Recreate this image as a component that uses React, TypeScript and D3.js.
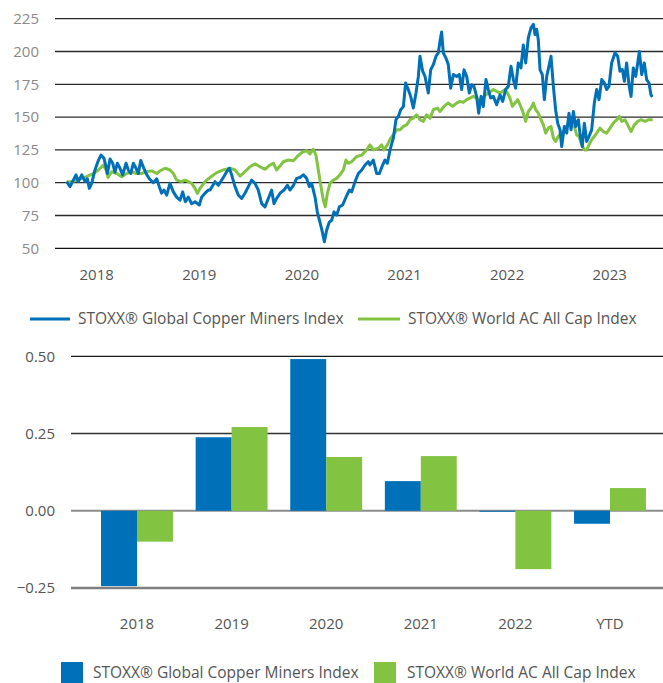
import React from 'react';
import * as d3 from 'd3';

// ---------- Top chart data (decimal year, index level) ----------
const copperMiners: [number, number][] = [
  [2017.707, 100.8], [2017.74, 97], [2017.772, 102], [2017.798, 106], [2017.821, 100.8], [2017.854, 106],
  [2017.886, 101], [2017.909, 103], [2017.928, 95.7], [2017.951, 99.5], [2017.983, 109.7], [2018.016, 117],
  [2018.042, 121], [2018.071, 118.6], [2018.091, 112], [2018.104, 107], [2018.13, 118], [2018.156, 114.8],
  [2018.178, 108], [2018.201, 114.8], [2018.227, 111], [2018.253, 106], [2018.286, 114.8], [2018.308, 109.7],
  [2018.331, 107], [2018.357, 114.8], [2018.383, 111], [2018.406, 107], [2018.429, 117], [2018.454, 112],
  [2018.481, 107], [2018.513, 103], [2018.552, 100], [2018.585, 103], [2018.61, 97], [2018.633, 92],
  [2018.656, 94.4], [2018.682, 90.5], [2018.714, 99.5], [2018.747, 93], [2018.779, 89], [2018.812, 86.7],
  [2018.838, 93], [2018.864, 85.5], [2018.893, 89], [2018.926, 84], [2018.958, 85.5], [2019.0, 83],
  [2019.023, 89], [2019.056, 92], [2019.088, 94.4], [2019.105, 94.4], [2019.153, 100.8], [2019.186, 98],
  [2019.234, 104], [2019.267, 108.4], [2019.293, 111], [2019.315, 106], [2019.348, 97], [2019.38, 90.6],
  [2019.413, 88], [2019.445, 92], [2019.478, 97], [2019.51, 102], [2019.543, 99.5], [2019.575, 94.4],
  [2019.608, 84], [2019.64, 81.6], [2019.673, 88], [2019.705, 94.4], [2019.728, 84], [2019.754, 88],
  [2019.787, 92], [2019.826, 94.4], [2019.858, 98], [2019.884, 94.4], [2019.917, 98], [2019.949, 103.3],
  [2019.981, 104], [2020.014, 106], [2020.046, 103.3], [2020.072, 97], [2020.095, 99.5], [2020.128, 89],
  [2020.15, 77.8], [2020.176, 70], [2020.199, 62.5], [2020.219, 55], [2020.241, 63.8], [2020.267, 70],
  [2020.29, 71.4], [2020.313, 77.8], [2020.339, 75.3], [2020.365, 81.6], [2020.397, 83], [2020.43, 89],
  [2020.462, 94.4], [2020.485, 93], [2020.518, 100.8], [2020.55, 107], [2020.583, 109.7], [2020.615, 113.5],
  [2020.647, 116], [2020.664, 113.5], [2020.696, 117.3], [2020.729, 107], [2020.755, 107], [2020.787, 113.5],
  [2020.81, 117.3], [2020.833, 114.8], [2020.859, 125], [2020.891, 134], [2020.917, 148], [2020.94, 150.5],
  [2020.963, 155.6], [2020.989, 158], [2021.011, 176], [2021.037, 171], [2021.06, 165.8], [2021.086, 157],
  [2021.112, 168.4], [2021.135, 181], [2021.151, 196.4], [2021.177, 185], [2021.2, 181], [2021.232, 168.4],
  [2021.255, 186], [2021.281, 190], [2021.307, 196.4], [2021.33, 199], [2021.346, 208], [2021.362, 214.8],
  [2021.378, 199], [2021.404, 195], [2021.427, 190], [2021.45, 172], [2021.476, 182.4], [2021.508, 181],
  [2021.534, 182.4], [2021.557, 171], [2021.58, 186], [2021.606, 181], [2021.632, 168.4], [2021.655, 174.7],
  [2021.677, 173.5], [2021.703, 165.8], [2021.723, 153], [2021.746, 165.8], [2021.768, 158], [2021.794, 178.6],
  [2021.817, 171], [2021.84, 164.5], [2021.866, 165.8], [2021.898, 159.4], [2021.931, 167], [2021.957, 162],
  [2021.986, 171], [2022.012, 173.5], [2022.038, 188.8], [2022.061, 178.6], [2022.083, 172], [2022.109, 191.3],
  [2022.135, 187.5], [2022.158, 205], [2022.181, 191.3], [2022.207, 210.5], [2022.233, 218], [2022.256, 220.7],
  [2022.272, 213], [2022.288, 217], [2022.304, 209], [2022.321, 186], [2022.343, 182.4], [2022.363, 163.3],
  [2022.386, 181], [2022.408, 188.8], [2022.428, 196.4], [2022.451, 173.5], [2022.473, 155.6], [2022.493, 145.4],
  [2022.516, 140.3], [2022.532, 127.6], [2022.558, 142.9], [2022.581, 137.8], [2022.603, 153], [2022.623, 140.3],
  [2022.646, 154.3], [2022.668, 142.9], [2022.694, 148], [2022.714, 135.2], [2022.733, 127.6], [2022.753, 145.4],
  [2022.776, 131.4], [2022.798, 135.2], [2022.824, 140.3], [2022.85, 160.7], [2022.873, 171], [2022.896, 163.3],
  [2022.922, 178.6], [2022.948, 176], [2022.97, 171], [2022.993, 173.5], [2023.019, 191.3], [2023.052, 199],
  [2023.078, 196.4], [2023.1, 185], [2023.123, 186.4], [2023.143, 177.3], [2023.165, 191.3], [2023.188, 174.7],
  [2023.208, 165.8], [2023.23, 187.5], [2023.253, 181], [2023.273, 191.3], [2023.289, 200], [2023.312, 182.4],
  [2023.337, 191.3], [2023.36, 178.6], [2023.383, 176], [2023.402, 167], [2023.415, 165.3],
];

const worldAllCap: [number, number][] = [
  [2017.707, 100.5], [2017.772, 101], [2017.837, 103], [2017.902, 104.6], [2017.967, 107], [2018.016, 109.7],
  [2018.065, 113.5], [2018.091, 109.7], [2018.11, 104], [2018.146, 108.4], [2018.195, 107], [2018.243, 104.6],
  [2018.292, 107], [2018.341, 108.4], [2018.389, 107], [2018.438, 107], [2018.487, 108.4], [2018.536, 109],
  [2018.585, 107], [2018.617, 109], [2018.666, 111], [2018.714, 109.7], [2018.747, 107], [2018.779, 102],
  [2018.828, 100.8], [2018.861, 102], [2018.893, 100.8], [2018.926, 99.5], [2018.958, 95.7], [2018.981, 91.8],
  [2019.007, 95.7], [2019.056, 100.8], [2019.105, 104], [2019.169, 107.7], [2019.234, 109.7], [2019.299, 111],
  [2019.348, 109.7], [2019.397, 105], [2019.445, 108.4], [2019.494, 112.2], [2019.543, 114.3], [2019.592, 112.2],
  [2019.64, 110.2], [2019.689, 113.5], [2019.722, 114.8], [2019.754, 109.7], [2019.787, 112.8], [2019.819, 116],
  [2019.868, 117.3], [2019.917, 116.8], [2019.955, 120], [2019.998, 123], [2020.046, 124.5], [2020.079, 122],
  [2020.111, 125.5], [2020.137, 121], [2020.16, 109.7], [2020.186, 97], [2020.209, 86.7], [2020.228, 81.6],
  [2020.248, 91.8], [2020.274, 99.5], [2020.306, 102], [2020.339, 103.3], [2020.371, 106], [2020.404, 109.7],
  [2020.43, 117.3], [2020.453, 114.8], [2020.485, 116], [2020.534, 120], [2020.583, 121], [2020.631, 125],
  [2020.664, 128.8], [2020.696, 125], [2020.745, 126.3], [2020.777, 128.8], [2020.8, 125], [2020.833, 128.8],
  [2020.865, 134], [2020.891, 136.5], [2020.924, 140.3], [2020.956, 140.3], [2020.989, 142.9], [2021.021, 144.1],
  [2021.054, 148], [2021.086, 149.2], [2021.119, 151.8], [2021.151, 148], [2021.184, 146.7], [2021.216, 151.8],
  [2021.249, 149.2], [2021.281, 155.6], [2021.32, 156.9], [2021.346, 154.3], [2021.385, 158.2], [2021.427, 160.7],
  [2021.469, 158.2], [2021.508, 160.7], [2021.541, 162], [2021.573, 161.2], [2021.606, 163.3], [2021.638, 164.5],
  [2021.671, 165.8], [2021.703, 164.5], [2021.736, 162], [2021.775, 165.8], [2021.817, 168.4], [2021.866, 171],
  [2021.898, 169.6], [2021.931, 168.4], [2021.979, 171], [2022.006, 168], [2022.028, 164.5], [2022.051, 158.2],
  [2022.077, 160.7], [2022.103, 163.3], [2022.126, 159.4], [2022.158, 153], [2022.181, 146.7], [2022.207, 154.3],
  [2022.233, 156.9], [2022.256, 160.7], [2022.279, 155.6], [2022.304, 153], [2022.33, 148], [2022.353, 144.1],
  [2022.376, 137.8], [2022.402, 141.6], [2022.428, 142.9], [2022.451, 134], [2022.473, 131.4], [2022.499, 135.2],
  [2022.525, 137.8], [2022.548, 139], [2022.581, 142.9], [2022.613, 148], [2022.629, 145.4], [2022.655, 142.9],
  [2022.678, 136.5], [2022.701, 135.2], [2022.727, 128.8], [2022.753, 125], [2022.776, 125], [2022.798, 128.8],
  [2022.824, 132.7], [2022.85, 135.2], [2022.873, 137.8], [2022.905, 141.6], [2022.938, 139], [2022.97, 137.8],
  [2023.003, 141.6], [2023.035, 145.4], [2023.068, 148], [2023.094, 150.5], [2023.117, 146.7], [2023.149, 148],
  [2023.182, 142.9], [2023.208, 139], [2023.24, 144.1], [2023.273, 146.7], [2023.305, 148], [2023.344, 146.7],
  [2023.377, 148], [2023.419, 148],
];

const topYTicks = [50, 75, 100, 125, 150, 175, 200, 225];
const topXTicks = [2018, 2019, 2020, 2021, 2022, 2023];

// ---------- Bottom chart data ----------
const periods = ['2018', '2019', '2020', '2021', '2022', 'YTD'];
const copperReturns = [-0.244, 0.238, 0.491, 0.096, -0.003, -0.042];
const worldReturns = [-0.1, 0.271, 0.174, 0.177, -0.189, 0.0735];
const bottomYTicks = [-0.25, 0, 0.25, 0.5];

const seriesNames = ['STOXX® Global Copper Miners Index', 'STOXX® World AC All Cap Index'];
const BLUE = '#0070b9';
const GREEN = '#82c341';
const FONT = "'Open Sans', 'Noto Sans', sans-serif";

export default function App() {
  const W = 663;
  const H = 683;

  // top chart scales
  const xT = d3.scaleLinear().domain([2018, 2023]).range([96.7, 609.7]);
  const yT = d3.scaleLinear().domain([50, 225]).range([248.3, 18.7]);
  const line = d3
    .line<[number, number]>()
    .x((d) => xT(d[0]))
    .y((d) => yT(d[1]))
    .curve(d3.curveLinear);

  // bottom chart scales
  const xB = d3.scaleBand<string>().domain(periods).range([89.7, 657.3]).paddingInner(0.24).paddingOuter(0.12);
  const xSub = d3.scaleBand<number>().domain([0, 1]).range([0, xB.bandwidth()]);
  const yB = d3.scaleLinear().domain([-0.25, 0.5]).range([588, 356.3]);
  const fmt = d3.format('.2f');

  const gridStyle = (v: number) => {
    if (v === 0) return { stroke: '#8c8c8c', width: 1.8 };
    if (v === -0.25) return { stroke: '#7f7f7f', width: 2.6 };
    if (v === 0.25) return { stroke: '#333', width: 1.6 };
    return { stroke: '#1a1a1a', width: 1.3 };
  };

  return (
    <svg
      width={W}
      height={H}
      style={{ position: 'absolute', left: 0, top: 0, background: '#fff' }}
      fontFamily={FONT}
    >
      {/* ---------- Top chart ---------- */}
      <g>
        {topYTicks.map((v) => (
          <g key={v}>
            <line x1={55} x2={663} y1={yT(v)} y2={yT(v)} stroke={v === 50 ? '#111' : '#2a2a2a'} strokeWidth={1.3} />
            <text x={39} y={yT(v)} dy="0.35em" textAnchor="end" fontSize={15} fill="#8a8a8a">
              {v}
            </text>
          </g>
        ))}
        {topXTicks.map((t) => (
          <text key={t} x={xT(t)} y={275} dy="0.35em" textAnchor="middle" fontSize={15} fill="#555">
            {t}
          </text>
        ))}
        <path d={line(worldAllCap) || ''} fill="none" stroke={GREEN} strokeWidth={3} strokeLinejoin="round" />
        <path d={line(copperMiners) || ''} fill="none" stroke={BLUE} strokeWidth={3} strokeLinejoin="round" />
      </g>

      {/* top legend */}
      <g>
        <line x1={30} x2={70} y1={319} y2={319} stroke={BLUE} strokeWidth={3} />
        <text x={78} y={319} dy="0.35em" fontSize={15.5} fill="#555">
          {seriesNames[0]}
        </text>
        <line x1={358} x2={400} y1={319} y2={319} stroke={GREEN} strokeWidth={3} />
        <text x={408} y={319} dy="0.35em" fontSize={15.5} fill="#555">
          {seriesNames[1]}
        </text>
      </g>

      {/* ---------- Bottom chart ---------- */}
      <g>
        {bottomYTicks.map((v) => {
          const s = gridStyle(v);
          return (
            <g key={v}>
              <line x1={71} x2={663} y1={yB(v)} y2={yB(v)} stroke={s.stroke} strokeWidth={s.width} />
              <text x={55} y={yB(v)} dy="0.35em" textAnchor="end" fontSize={15} fill="#555">
                {fmt(v)}
              </text>
            </g>
          );
        })}
        {periods.map((p, i) => {
          const x0 = xB(p) || 0;
          const vals = [copperReturns[i], worldReturns[i]];
          return (
            <g key={p}>
              {vals.map((v, j) => (
                <rect
                  key={j}
                  x={x0 + (xSub(j) || 0)}
                  width={xSub.bandwidth()}
                  y={Math.min(yB(v), yB(0))}
                  height={Math.max(Math.abs(yB(v) - yB(0)), 1)}
                  fill={j === 0 ? BLUE : GREEN}
                />
              ))}
              <text x={x0 + xB.bandwidth() / 2} y={624} dy="0.35em" textAnchor="middle" fontSize={15} fill="#555">
                {p}
              </text>
            </g>
          );
        })}
      </g>

      {/* bottom legend */}
      <g>
        <rect x={61} y={662} width={22} height={21} fill={BLUE} />
        <text x={93} y={673} dy="0.35em" fontSize={15.5} fill="#555">
          {seriesNames[0]}
        </text>
        <rect x={374} y={662} width={22} height={21} fill={GREEN} />
        <text x={407} y={673} dy="0.35em" fontSize={15.5} fill="#555">
          {seriesNames[1]}
        </text>
      </g>
    </svg>
  );
}
